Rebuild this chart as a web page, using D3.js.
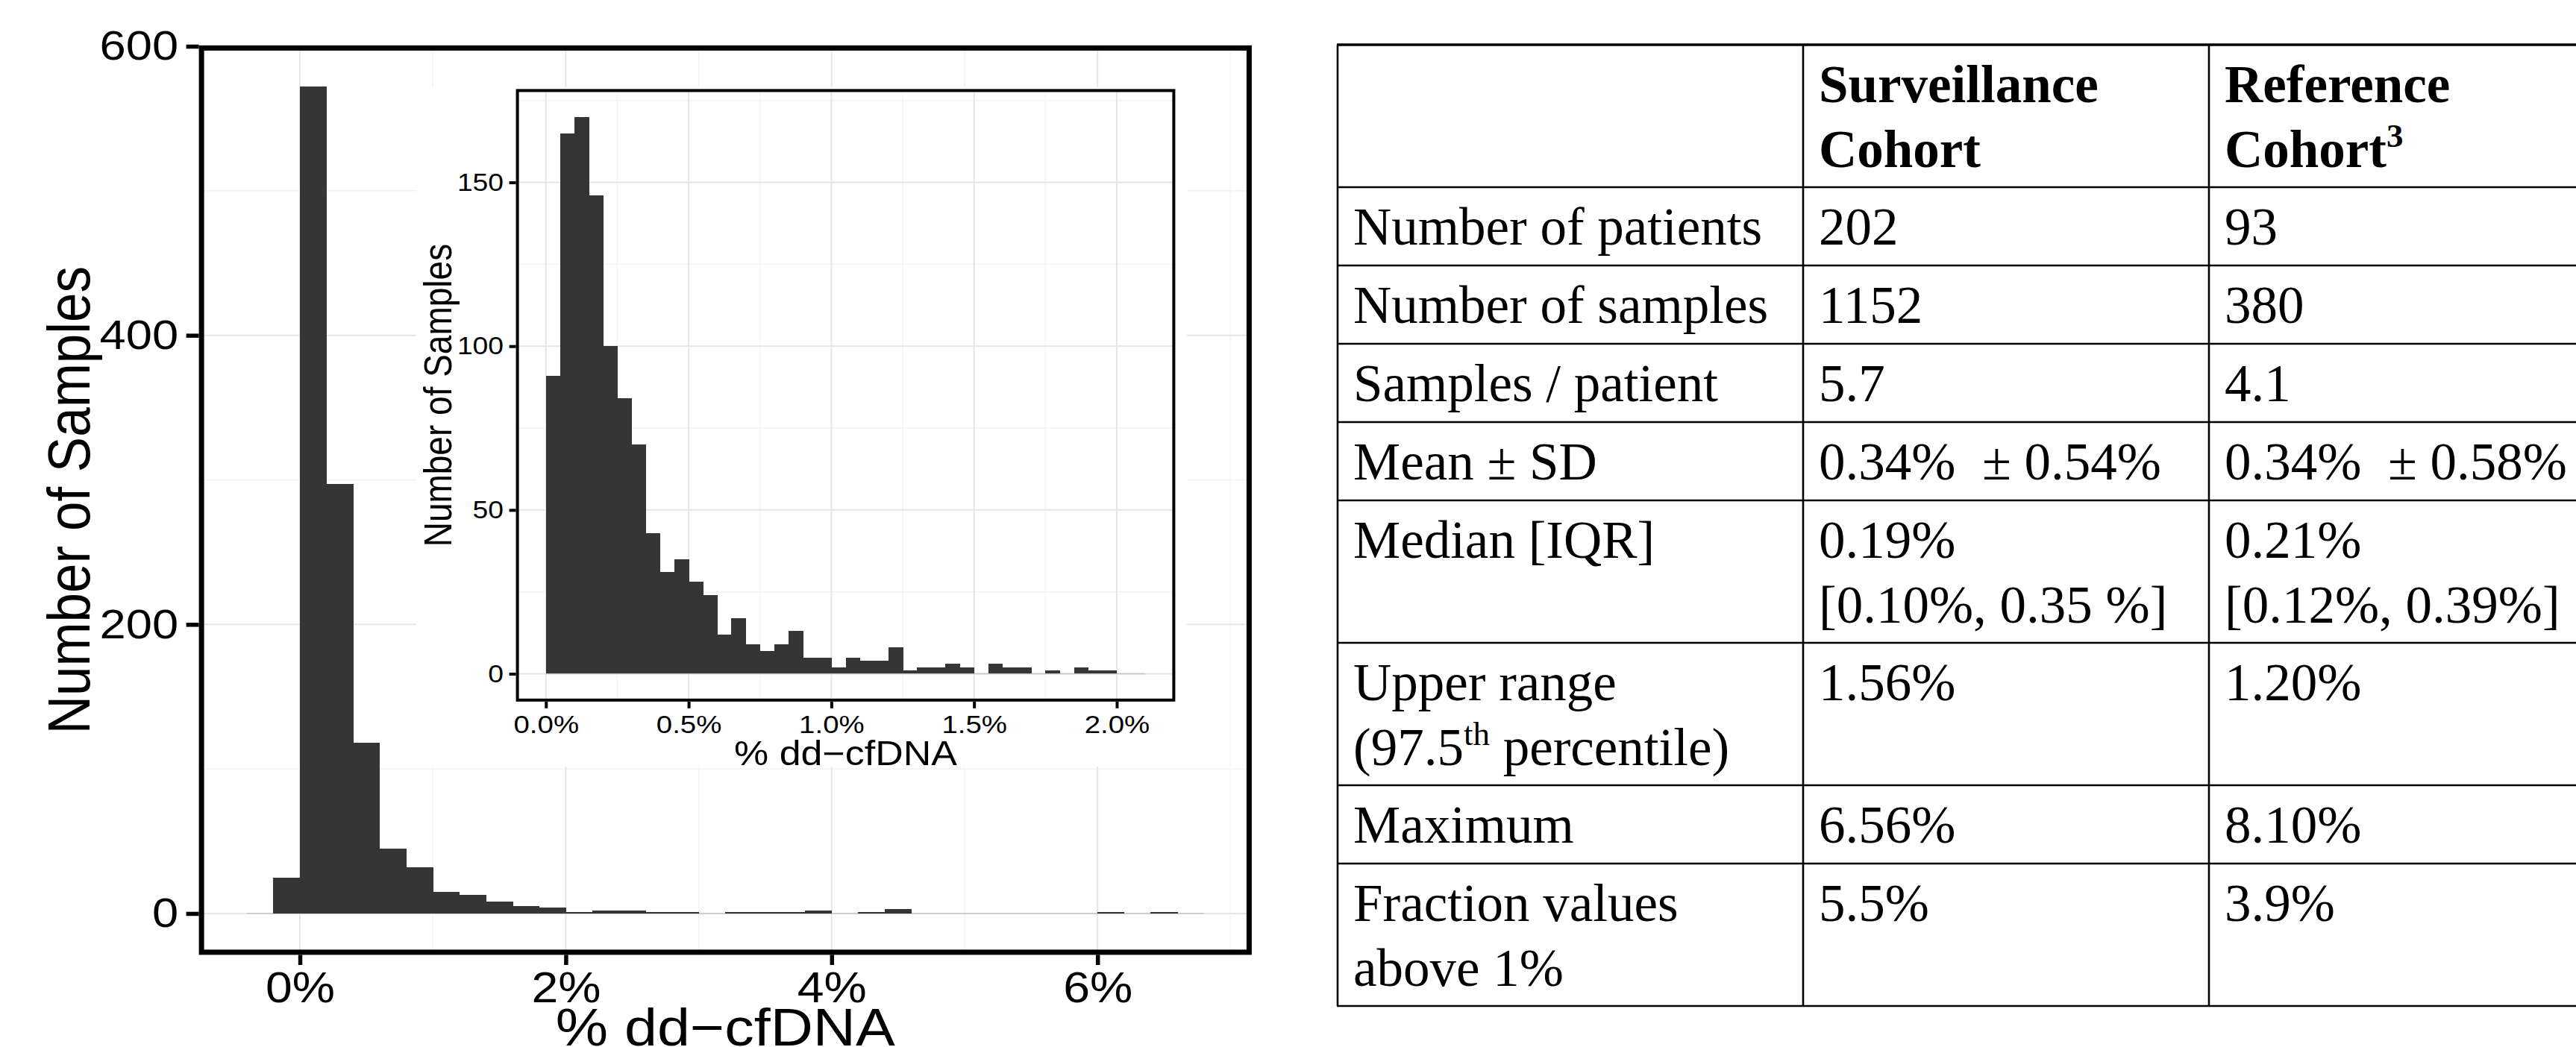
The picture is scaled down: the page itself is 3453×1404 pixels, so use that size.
<!DOCTYPE html>
<html><head><meta charset="utf-8">
<script src="https://cdn.jsdelivr.net/npm/d3@7"></script>
<style>
html,body{margin:0;padding:0;background:#fff;}
svg{display:block;}
.tbl text{font-family:"Liberation Serif","Times New Roman",serif;white-space:pre;}
</style></head><body>
<svg id="c" width="3453" height="1404"></svg>
<script>
// ---------------- data ----------------
const mainBinStart = [-0.4,-0.2,0.0,0.2,0.4,0.6,0.8,1.0,1.2,1.4,1.6,1.8,2.0,2.2,2.4,2.6,2.8,3.0,3.2,3.4,3.6,3.8,4.0,4.2,4.4,4.6,4.8,5.0,5.2,5.4,5.6,5.8,6.0,6.2,6.4,6.6];
const mainCounts   = [0,25,572,297,118,45,32,15,13,8,5,4,1,2,2,1,1,0,1,1,1,2,0,1,3,0,0,0,0,0,0,0,1,0,1,0];
const mainBinWidth = 0.2;

const insetBinStart = [0.00,0.05,0.10,0.15,0.20,0.25,0.30,0.35,0.40,0.45,0.50,0.55,0.60,0.65,0.70,0.75,0.80,0.85,0.90,0.95,1.00,1.05,1.10,1.15,1.20,1.25,1.30,1.35,1.40,1.45,1.50,1.55,1.60,1.65,1.70,1.75,1.80,1.85,1.90,1.95,2.00,2.05];
const insetCounts   = [91,165,170,146,100,84,70,43,31,35,28,24,12,17,9,7,9,13,5,5,2,5,4,4,8,1,2,2,3,2,0,3,2,2,0,1,0,2,1,1,0,0];
const insetBinWidth = 0.05;

const mainXTicks = [0,2,4,6];
const mainXTickLabels = ["0%","2%","4%","6%"];
const mainXMinor = [1,3,5,7];
const mainYTicks = [0,200,400,600];
const mainYMinor = [100,300,500];

const insetXTicks = [0,0.5,1,1.5,2];
const insetXTickLabels = ["0.0%","0.5%","1.0%","1.5%","2.0%"];
const insetXMinor = [0.25,0.75,1.25,1.75];
const insetYTicks = [0,50,100,150];
const insetYMinor = [25,75,125,175];

const xTitle = "% dd\u2212cfDNA";
const yTitle = "Number of Samples";

// table: each cell is a list of lines; ^...^ marks superscript
const tableHeader = [[""],["Surveillance","Cohort"],["Reference","Cohort^3"]];
const tableRows = [
  [["Number of patients"],["202"],["93"]],
  [["Number of samples"],["1152"],["380"]],
  [["Samples / patient"],["5.7"],["4.1"]],
  [["Mean \u00b1 SD"],["0.34%  \u00b1 0.54%"],["0.34%  \u00b1 0.58%"]],
  [["Median [IQR]"],["0.19%","[0.10%, 0.35 %]"],["0.21%","[0.12%, 0.39%]"]],
  [["Upper range","(97.5^th^ percentile)"],["1.56%"],["1.20%"]],
  [["Maximum"],["6.56%"],["8.10%"]],
  [["Fraction values","above 1%"],["5.5%"],["3.9%"]]
];

// ---------------- drawing ----------------
const svg = d3.select("#c");
svg.append("rect").attr("width",3453).attr("height",1404).attr("fill","#fff");
const SANS = '"Liberation Sans", Arial, sans-serif';
const SX = 1.13; // horizontal stretch of the source figure's text

function stretchTexts(g, size){
  g.selectAll(".tick text").each(function(){
    const t = d3.select(this);
    const x = +t.attr("x") || 0;
    t.attr("x",0).attr("transform",`translate(${x},0) scale(${SX},1)`)
     .style("font-family",SANS).style("font-size",size+"px").attr("fill","#000");
  });
}

function panel(opt){
  const {x,y,xMajor,xMinor,yMajor,yMinor,starts,counts,bw,baseFrom,baseTo,border,
         gMajorW,gMinorW,gMajor,gMinor} = opt;
  const [x0,x1] = x.range(), [y0,y1] = [y.range()[0], y.range()[1]];
  const g = svg.append("g");
  // grid
  g.append("g").selectAll("line").data(xMinor).join("line")
    .attr("x1",d=>x(d)).attr("x2",d=>x(d)).attr("y1",y0).attr("y2",y1)
    .attr("stroke",gMinor).attr("stroke-width",gMinorW);
  g.append("g").selectAll("line").data(yMinor).join("line")
    .attr("y1",d=>y(d)).attr("y2",d=>y(d)).attr("x1",x0).attr("x2",x1)
    .attr("stroke",gMinor).attr("stroke-width",gMinorW);
  g.append("g").selectAll("line").data(xMajor).join("line")
    .attr("x1",d=>x(d)).attr("x2",d=>x(d)).attr("y1",y0).attr("y2",y1)
    .attr("stroke",gMajor).attr("stroke-width",gMajorW);
  g.append("g").selectAll("line").data(yMajor).join("line")
    .attr("y1",d=>y(d)).attr("y2",d=>y(d)).attr("x1",x0).attr("x2",x1)
    .attr("stroke",gMajor).attr("stroke-width",gMajorW);
  // zero-height bins baseline
  g.append("line").attr("x1",x(baseFrom)).attr("x2",x(baseTo))
    .attr("y1",y(0)).attr("y2",y(0)).attr("stroke","#c6c6c6").attr("stroke-width",1.6);
  // bars
  const bins = starts.map((s,i)=>({s,c:counts[i]})).filter(d=>d.c>0);
  g.append("g").attr("shape-rendering","crispEdges").selectAll("rect").data(bins).join("rect")
    .attr("x",d=>x(d.s)).attr("width",d=>x(d.s+bw)-x(d.s)+0.5)
    .attr("y",d=>y(d.c)).attr("height",d=>y(0)-y(d.c))
    .attr("fill","#353535");
  // border
  const h = border/2;
  g.append("rect").attr("x",x0+h).attr("y",y1+h)
    .attr("width",x1-x0-border).attr("height",y0-y1-border)
    .attr("fill","none").attr("stroke","#000").attr("stroke-width",border);
  return g;
}

// ---- main histogram ----
const mx = d3.scaleLinear().domain([-0.76,7.16]).range([266.6,1677.9]);
const my = d3.scaleLinear().domain([-28.6,600.6]).range([1280.4,60.85]);
panel({x:mx,y:my,xMajor:mainXTicks,xMinor:mainXMinor,yMajor:mainYTicks,yMinor:mainYMinor,
  starts:mainBinStart,counts:mainCounts,bw:mainBinWidth,baseFrom:-0.4,baseTo:6.8,border:7,
  gMajorW:2,gMinorW:1.5,gMajor:"#e6e6e6",gMinor:"#f3f3f3"});

const gy = svg.append("g").attr("transform",`translate(${mx.range()[0]},0)`)
  .call(d3.axisLeft(my).tickValues(mainYTicks).tickFormat(d3.format("d")).tickSize(17).tickPadding(10.5));
gy.select(".domain").remove();
gy.selectAll(".tick line").attr("stroke","#000").attr("stroke-width",5.5);
stretchTexts(gy,56);

const gx = svg.append("g").attr("transform",`translate(0,${my.range()[0]})`)
  .call(d3.axisBottom(mx).tickValues(mainXTicks).tickFormat((d,i)=>mainXTickLabels[i]).tickSize(13.6).tickPadding(9.2));
gx.select(".domain").remove();
gx.selectAll(".tick line").attr("stroke","#000").attr("stroke-width",5.5);
stretchTexts(gx,57);

const mcx = (mx.range()[0]+mx.range()[1])/2, mcy = (my.range()[0]+my.range()[1])/2;
svg.append("text").text(xTitle).attr("text-anchor","middle")
  .attr("transform",`translate(${mcx},1402) scale(${SX},1)`)
  .style("font-family",SANS).style("font-size","70px").attr("fill","#000");
svg.append("text").text(yTitle).attr("text-anchor","middle")
  .attr("transform",`translate(120,${mcy}) scale(${SX},1) rotate(-90)`)
  .style("font-family",SANS).style("font-size","71px").attr("fill","#000");

// ---- inset histogram ----
svg.append("rect").attr("x",558).attr("y",117).attr("width",1591-558).attr("height",1028-117).attr("fill","#fff");
const ix = d3.scaleLinear().domain([-0.105,2.205]).range([691.6,1575.4]);
const iy = d3.scaleLinear().domain([-8.5,178.5]).range([940.8,119.4]);
panel({x:ix,y:iy,xMajor:insetXTicks,xMinor:insetXMinor,yMajor:insetYTicks,yMinor:insetYMinor,
  starts:insetBinStart,counts:insetCounts,bw:insetBinWidth,baseFrom:0,baseTo:2.1,border:4,
  gMajorW:2,gMinorW:1.4,gMajor:"#e6e6e6",gMinor:"#f3f3f3"});

const iay = svg.append("g").attr("transform",`translate(${ix.range()[0]},0)`)
  .call(d3.axisLeft(iy).tickValues(insetYTicks).tickFormat(d3.format("d")).tickSize(9).tickPadding(7.5));
iay.select(".domain").remove();
iay.selectAll(".tick line").attr("stroke","#000").attr("stroke-width",4);
stretchTexts(iay,33);

const iax = svg.append("g").attr("transform",`translate(0,${iy.range()[0]})`)
  .call(d3.axisBottom(ix).tickValues(insetXTicks).tickFormat((d,i)=>insetXTickLabels[i]).tickSize(9).tickPadding(9));
iax.select(".domain").remove();
iax.selectAll(".tick line").attr("stroke","#000").attr("stroke-width",4);
stretchTexts(iax,34);

const icx = (ix.range()[0]+ix.range()[1])/2, icy = (iy.range()[0]+iy.range()[1])/2;
svg.append("text").text(xTitle).attr("text-anchor","middle")
  .attr("transform",`translate(${icx},1026) scale(${SX},1)`)
  .style("font-family",SANS).style("font-size","46px").attr("fill","#000");
svg.append("text").text(yTitle).attr("text-anchor","middle")
  .attr("transform",`translate(605,${icy}) scale(${SX},1) rotate(-90)`)
  .style("font-family",SANS).style("font-size","46px").attr("fill","#000");

// ---- table ----
const tbl = svg.append("g").attr("class","tbl");
const colX = [1793,2417,2961];
const tableRight = 3470;
const FS = 71, LINE = 87, FIRST = 77;
const allRows = [tableHeader].concat(tableRows);
let yTop = 60;
const tops = [];
allRows.forEach(r=>{
  tops.push(yTop);
  const n = d3.max(r, c=>c.length);
  yTop += 105 + (n-1)*86;
});
const bottom = yTop;
const hl = tops.concat([bottom]);
tbl.append("g").selectAll("line").data(hl).join("line")
  .attr("x1",colX[0]-1).attr("x2",tableRight).attr("y1",d=>d).attr("y2",d=>d)
  .attr("stroke","#000").attr("stroke-width",(d,i)=>i===0?3.5:2.6);
tbl.append("g").selectAll("line").data(colX).join("line")
  .attr("x1",d=>d).attr("x2",d=>d).attr("y1",hl[0]).attr("y2",bottom)
  .attr("stroke","#000").attr("stroke-width",2.6);

allRows.forEach((r,ri)=>{
  r.forEach((cell,ci)=>{
    cell.forEach((line,li)=>{
      if(!line) return;
      const t = tbl.append("text").attr("x",colX[ci]+21).attr("y",tops[ri]+FIRST+li*LINE)
        .style("font-size",FS+"px").attr("fill","#000")
        .style("font-weight", ri===0?"bold":"normal");
      const parts = line.split("^");
      let shifted = false;
      parts.forEach((p,pi)=>{
        if(p==="") { return; }
        const sup = pi%2===1;
        const ts = t.append("tspan").text(p);
        if(sup){ ts.attr("dy",-27).style("font-size","45px"); shifted = true; }
        else if(shifted){ ts.attr("dy",27).style("font-size",FS+"px"); shifted=false; }
      });
    });
  });
});
</script>
</body></html>
